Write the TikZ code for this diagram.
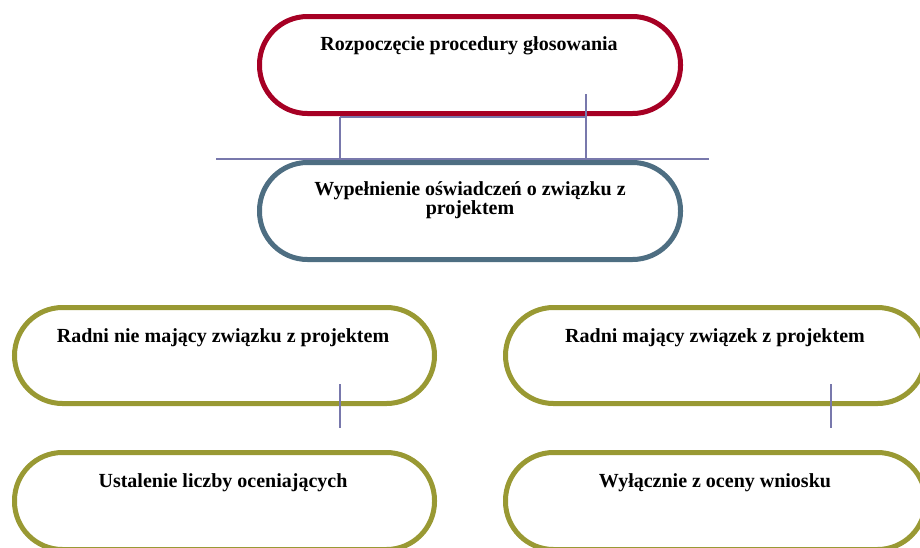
\documentclass[tikz,border=0pt]{standalone}
\usepackage{fontspec}
\setmainfont{Liberation Serif}
\definecolor{cred}{RGB}{166,0,36}
\definecolor{cslate}{RGB}{78,110,130}
\definecolor{colive}{RGB}{153,153,51}
\definecolor{cline}{RGB}{120,120,172}
\begin{document}
\begin{tikzpicture}[x=1pt,y=-1pt,
  pill/.style={draw, line width=5pt, fill=white, rounded corners=48pt, minimum width=421pt, minimum height=97pt, inner sep=0pt},
  lbl/.style={anchor=base, font=\fontsize{20}{18.5}\selectfont\bfseries, align=center, inner sep=0pt},
  conn/.style={draw=cline, line width=1.5pt}]
\useasboundingbox (0,0) rectangle (920,547);
\clip (0,0) rectangle (920,547);
% boxes
\node[pill, draw=cred] (start) at (470,65) {};
\node[pill, draw=cslate] (fill) at (470,211) {};
\node[pill, draw=colive, minimum width=420pt, minimum height=96pt] (nrel) at (224.5,355.5) {};
\node[pill, draw=colive, minimum width=420pt, minimum height=97pt] (count) at (224.5,501) {};
\node[pill, draw=colive, minimum width=420pt, minimum height=96pt] (rel) at (715.5,355.5) {};
\node[pill, draw=colive, minimum width=420pt, minimum height=97pt] (excl) at (715.5,501) {};
% labels
\node[lbl] (tstart) at (469,50) {Rozpoczęcie procedury głosowania};
\node[lbl, anchor=north] (tfill) at (470,181.5) {Wypełnienie oświadczeń o związku z\\projektem};
\node[lbl] (tnrel) at (223,342) {Radni nie mający związku z projektem};
\node[lbl] (tcount) at (223,487) {Ustalenie liczby oceniających};
\node[lbl] (trel) at (715,342) {Radni mający związek z projektem};
\node[lbl] (texcl) at (715,487) {Wyłącznie z oceny wniosku};
% connectors
\coordinate (a1) at (586,94);
\coordinate (a2) at (586,159);
\coordinate (b1) at (340,117);
\coordinate (b2) at (340,159);
\coordinate (h1) at (216,159);
\coordinate (h2) at (709,159);
\coordinate (l1) at (340,384);
\coordinate (l2) at (340,428);
\coordinate (r1) at (831,384);
\coordinate (r2) at (831,428);
\draw[conn] (a1) -- (a2);
\draw[conn] (b1) -- (b2);
\draw[conn] (b1) -- (a1 |- b1);
\draw[conn] (h1) -- (h2);
\draw[conn] (l1) -- (l2);
\draw[conn] (r1) -- (r2);
\end{tikzpicture}
\end{document}
